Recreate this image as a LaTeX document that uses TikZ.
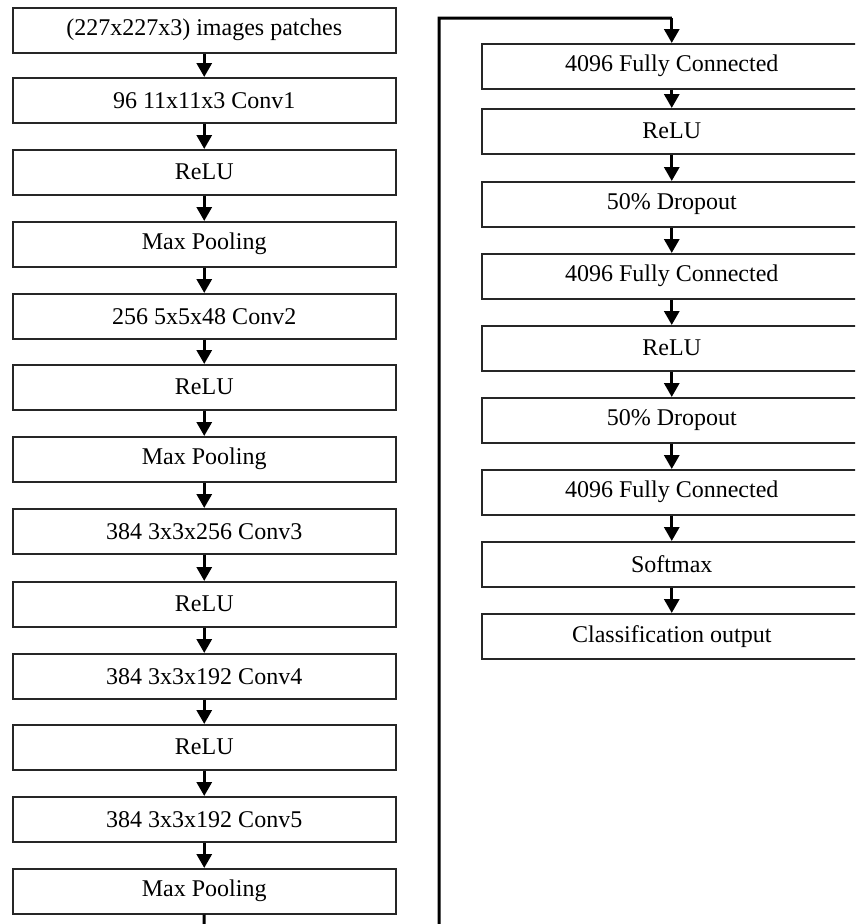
\documentclass[tikz,border=0pt]{standalone}
\usepackage{fontspec}
\setmainfont{Liberation Serif}
\usetikzlibrary{arrows.meta}
\begin{document}
\begin{tikzpicture}[x=1pt,y=-1pt,
  layerbox/.style={draw=black!85, line width=1.5pt, rectangle, inner sep=0pt,
    anchor=north west, font=\fontsize{24}{27}\selectfont},
  lbox/.style={layerbox, minimum width=383pt, minimum height=45pt},
  rbox/.style={layerbox, minimum width=380pt, minimum height=45pt},
  flow/.style={line width=3pt, -{Triangle[width=15pt,length=14pt]}},
  link/.style={line width=3pt}]
\useasboundingbox (0,0) rectangle (855,924);
\clip (0,0) rectangle (855,924);
% left column
\node[lbox] (L1) at (12,7) {(227x227x3) images patches};
\node[lbox] (L2) at (12,77) {96 11x11x3 Conv1};
\node[lbox] (L3) at (12,149) {ReLU};
\node[lbox] (L4) at (12,221) {Max Pooling};
\node[lbox] (L5) at (12,293) {256 5x5x48 Conv2};
\node[lbox] (L6) at (12,364) {ReLU};
\node[lbox] (L7) at (12,436) {Max Pooling};
\node[lbox] (L8) at (12,508) {384 3x3x256 Conv3};
\node[lbox] (L9) at (12,581) {ReLU};
\node[lbox] (L10) at (12,653) {384 3x3x192 Conv4};
\node[lbox] (L11) at (12,724) {ReLU};
\node[lbox] (L12) at (12,796) {384 3x3x192 Conv5};
\node[lbox] (L13) at (12,868) {Max Pooling};
% right column
\node[rbox] (R1) at (481,43) {4096 Fully Connected};
\node[rbox] (R2) at (481,108) {ReLU};
\node[rbox] (R3) at (481,181) {50\% Dropout};
\node[rbox] (R4) at (481,253) {4096 Fully Connected};
\node[rbox] (R5) at (481,325) {ReLU};
\node[rbox] (R6) at (481,397) {50\% Dropout};
\node[rbox] (R7) at (481,469) {4096 Fully Connected};
\node[rbox] (R8) at (481,541) {Softmax};
\node[rbox] (R9) at (481,613) {Classification output};
% arrows
\foreach \a/\b in {L1/L2,L2/L3,L3/L4,L4/L5,L5/L6,L6/L7,L7/L8,L8/L9,L9/L10,L10/L11,L11/L12,L12/L13,
                   R1/R2,R2/R3,R3/R4,R4/R5,R5/R6,R6/R7,R7/R8,R8/R9}
  \draw[flow] (\a.south) -- (\b.north);
% wrap-around connector
\coordinate (down) at (204,945);
\coordinate (corner) at (439,945);
\coordinate (top) at (439,18);
\coordinate (over) at (R1.north |- top);
\draw[link, line join=miter] (L13.south) -- (down) -- (corner) -- (top) -- (over);
\draw[flow] (over) -- (R1.north);
\end{tikzpicture}
\end{document}
